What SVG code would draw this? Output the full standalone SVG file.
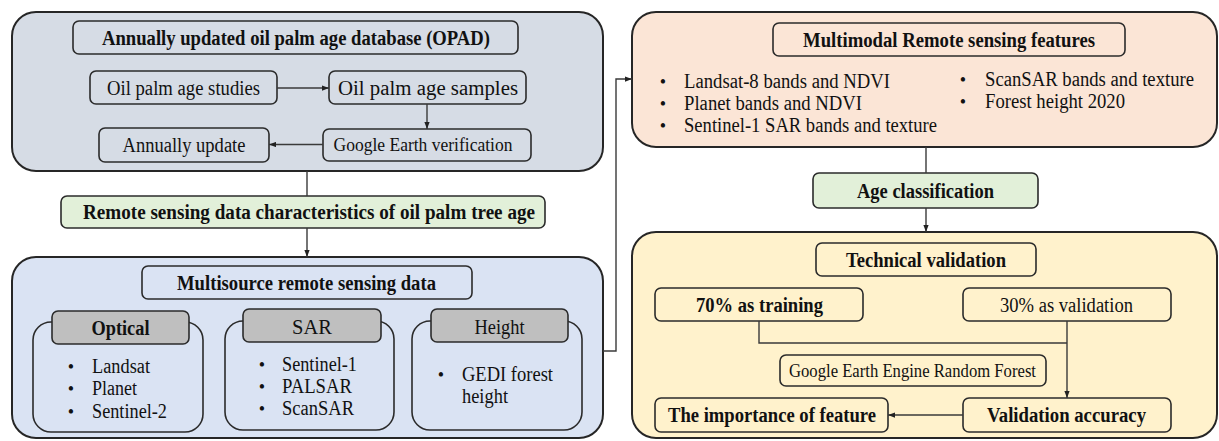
<svg xmlns="http://www.w3.org/2000/svg" width="1219" height="441" viewBox="0 0 1219 441">
  <style>
    .panel { stroke: #262626; stroke-width: 2; }
    .box { fill: none; stroke: #2b2b2b; stroke-width: 1.6; }
    .hdr { fill: #bfbfbf; stroke: #2b2b2b; stroke-width: 1.6; }
    .green { fill: #e2f0d9; stroke: #2b2b2b; stroke-width: 1.6; }
    text { font-family: "Liberation Serif", "Times New Roman", serif; font-size: 19px; fill: #111; }
    .t { font-size: 20.5px; }
    .s { font-size: 18.5px; }
    .b { font-weight: bold; }
    .c { text-anchor: middle; }
    .dot { text-anchor: middle; font-size: 18px; }
    .wire { fill: none; stroke: #3a3a3a; stroke-width: 1.4; }
  </style>
  <defs>
    <marker id="arrow" viewBox="0 0 8 6" refX="8" refY="3" markerWidth="7" markerHeight="5.5" markerUnits="userSpaceOnUse" orient="auto">
      <path d="M0,0 L8,3 L0,6 Z" fill="#222"/>
    </marker>
  </defs>

  <!-- Database panel -->
  <g id="opad">
    <rect class="panel" x="12" y="12" width="591" height="159" rx="24" fill="#d6dce5"/>
    <rect class="box" x="73" y="21" width="445" height="33" rx="6"/>
    <text class="t b c" x="296" y="45" textLength="388" lengthAdjust="spacingAndGlyphs">Annually updated oil palm age database (OPAD)</text>
  </g>
  <g id="studies">
    <rect class="box" x="90" y="71" width="187" height="33" rx="6"/>
    <text class="t c" x="183.5" y="95" textLength="153" lengthAdjust="spacingAndGlyphs">Oil palm age studies</text>
  </g>
  <g id="samples">
    <rect class="box" x="329" y="71" width="197" height="33" rx="6"/>
    <text class="t c" x="428" y="95" textLength="180" lengthAdjust="spacingAndGlyphs">Oil palm age samples</text>
  </g>
  <g id="update">
    <rect class="box" x="99" y="128" width="170" height="34" rx="6"/>
    <text class="t c" x="184" y="152" textLength="123" lengthAdjust="spacingAndGlyphs">Annually update</text>
  </g>
  <g id="verification">
    <rect class="box" x="323" y="129" width="208" height="32" rx="6"/>
    <text class="s c" x="423" y="151" textLength="179" lengthAdjust="spacingAndGlyphs">Google Earth verification</text>
  </g>

  <!-- Characteristics step -->
  <g id="characteristics">
    <rect class="green" x="61" y="196" width="484" height="32" rx="6"/>
    <text class="t b c" x="309" y="219" textLength="452" lengthAdjust="spacingAndGlyphs">Remote sensing data characteristics of oil palm tree age</text>
  </g>

  <!-- Multisource data panel -->
  <g id="multisource">
    <rect class="panel" x="12" y="257" width="591" height="181" rx="24" fill="#dae3f3"/>
    <rect class="box" x="142" y="266" width="330" height="33" rx="6"/>
    <text class="t b c" x="306.5" y="290" textLength="259" lengthAdjust="spacingAndGlyphs">Multisource remote sensing data</text>
  </g>
  <g id="optical">
    <rect class="box" x="33" y="322" width="170" height="110" rx="18"/>
    <rect class="hdr" x="52" y="311" width="137" height="33" rx="6"/>
    <text class="t b c" x="120.5" y="335" textLength="58" lengthAdjust="spacingAndGlyphs">Optical</text>
    <text class="dot" x="71" y="373">•</text>
    <text class="t" x="92" y="373" textLength="58" lengthAdjust="spacingAndGlyphs">Landsat</text>
    <text class="dot" x="71" y="395">•</text>
    <text class="t" x="92" y="395" textLength="45" lengthAdjust="spacingAndGlyphs">Planet</text>
    <text class="dot" x="71" y="418">•</text>
    <text class="t" x="92" y="418" textLength="75" lengthAdjust="spacingAndGlyphs">Sentinel-2</text>
  </g>
  <g id="sar">
    <rect class="box" x="225" y="321" width="169" height="109" rx="18"/>
    <rect class="hdr" x="243" y="309" width="138" height="33" rx="6"/>
    <text class="t c" x="312" y="334">SAR</text>
    <text class="dot" x="262" y="371">•</text>
    <text class="t" x="282" y="371" textLength="75" lengthAdjust="spacingAndGlyphs">Sentinel-1</text>
    <text class="dot" x="262" y="393">•</text>
    <text class="t" x="282" y="393" textLength="70" lengthAdjust="spacingAndGlyphs">PALSAR</text>
    <text class="dot" x="262" y="415">•</text>
    <text class="t" x="282" y="415" textLength="72" lengthAdjust="spacingAndGlyphs">ScanSAR</text>
  </g>
  <g id="height">
    <rect class="box" x="412" y="321" width="170" height="109" rx="18"/>
    <rect class="hdr" x="431" y="309" width="137" height="33" rx="6"/>
    <text class="t c" x="499.5" y="334" textLength="50" lengthAdjust="spacingAndGlyphs">Height</text>
    <text class="dot" x="441" y="381">•</text>
    <text class="t" x="462" y="381" textLength="91" lengthAdjust="spacingAndGlyphs">GEDI forest</text>
    <text class="t" x="462" y="403" textLength="46" lengthAdjust="spacingAndGlyphs">height</text>
  </g>

  <!-- Features panel -->
  <g id="features">
    <rect class="panel" x="632" y="12" width="585" height="135" rx="24" fill="#fbe5d6"/>
    <rect class="box" x="773" y="23" width="352" height="33" rx="6"/>
    <text class="t b c" x="949" y="47" textLength="292" lengthAdjust="spacingAndGlyphs">Multimodal Remote sensing features</text>
    <text class="dot" x="663" y="88">•</text>
    <text class="t" x="684" y="88" textLength="206" lengthAdjust="spacingAndGlyphs">Landsat-8 bands and NDVI</text>
    <text class="dot" x="663" y="110">•</text>
    <text class="t" x="684" y="110" textLength="178" lengthAdjust="spacingAndGlyphs">Planet bands and NDVI</text>
    <text class="dot" x="663" y="132">•</text>
    <text class="t" x="684" y="132" textLength="253" lengthAdjust="spacingAndGlyphs">Sentinel-1 SAR bands and texture</text>
    <text class="dot" x="963" y="86">•</text>
    <text class="t" x="985" y="86" textLength="209" lengthAdjust="spacingAndGlyphs">ScanSAR bands and texture</text>
    <text class="dot" x="963" y="108">•</text>
    <text class="t" x="985" y="108" textLength="140" lengthAdjust="spacingAndGlyphs">Forest height 2020</text>
  </g>

  <!-- Classification step -->
  <g id="classification">
    <rect class="green" x="813" y="173" width="225" height="35" rx="6"/>
    <text class="t b c" x="925.5" y="198" textLength="137" lengthAdjust="spacingAndGlyphs">Age classification</text>
  </g>

  <!-- Validation panel -->
  <g id="validation">
    <rect class="panel" x="632" y="232" width="585" height="206" rx="24" fill="#fff2cc"/>
    <rect class="box" x="816" y="243" width="220" height="33" rx="6"/>
    <text class="t b c" x="926" y="267" textLength="160" lengthAdjust="spacingAndGlyphs">Technical validation</text>
  </g>
  <g id="training">
    <rect class="box" x="655" y="288" width="208" height="33" rx="6"/>
    <text class="t b c" x="759.5" y="312" textLength="127" lengthAdjust="spacingAndGlyphs">70% as training</text>
  </g>
  <g id="testing">
    <rect class="box" x="963" y="288" width="208" height="33" rx="6"/>
    <text class="t c" x="1066.5" y="312" textLength="133" lengthAdjust="spacingAndGlyphs">30% as validation</text>
  </g>
  <g id="classifier">
    <rect class="box" x="780" y="355" width="266" height="31" rx="6"/>
    <text class="s c" x="912.5" y="377" textLength="247" lengthAdjust="spacingAndGlyphs">Google Earth Engine Random Forest</text>
  </g>
  <g id="importance">
    <rect class="box" x="655" y="398" width="233" height="34" rx="6"/>
    <text class="t b c" x="772" y="422" textLength="208" lengthAdjust="spacingAndGlyphs">The importance of feature</text>
  </g>
  <g id="accuracy">
    <rect class="box" x="963" y="398" width="208" height="34" rx="6"/>
    <text class="t b c" x="1066.5" y="422" textLength="159" lengthAdjust="spacingAndGlyphs">Validation accuracy</text>
  </g>

  <!-- Connectors -->
  <g id="connectors">
    <path class="wire" d="M277,88 H329" marker-end="url(#arrow)"/>
    <path class="wire" d="M427,104 V129" marker-end="url(#arrow)"/>
    <path class="wire" d="M323,144.5 H269" marker-end="url(#arrow)"/>
    <path class="wire" d="M307,171 V196"/>
    <path class="wire" d="M307,228 V257" marker-end="url(#arrow)"/>
    <path class="wire" d="M603,351 H616 V79 H632" marker-end="url(#arrow)"/>
    <path class="wire" d="M926,147 V173"/>
    <path class="wire" d="M926,208 V232" marker-end="url(#arrow)"/>
    <path class="wire" d="M759,321 V343 H1067"/>
    <path class="wire" d="M1067,321 V398" marker-end="url(#arrow)"/>
    <path class="wire" d="M963,415 H888" marker-end="url(#arrow)"/>
  </g>
</svg>
